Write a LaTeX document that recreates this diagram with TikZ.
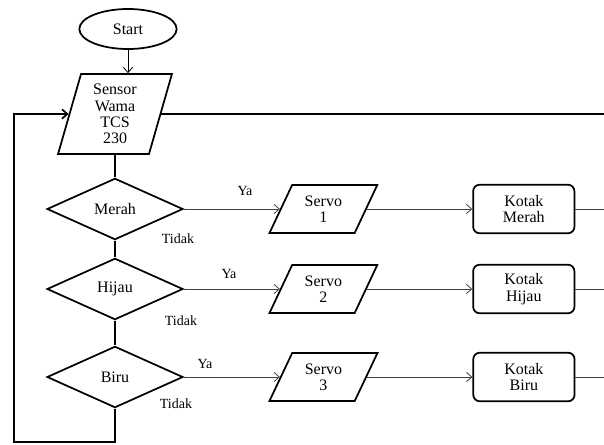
\documentclass[tikz,border=0pt]{standalone}
\usepackage{fontspec}
\setmainfont{Liberation Serif}
\usetikzlibrary{positioning}
\usetikzlibrary{shapes.geometric}
\usetikzlibrary{arrows.meta}
\tikzstyle{every link} = []
\tikzstyle{thick link} = [draw, line width=1.3pt, every link]
\tikzstyle{thin link} = [draw, line width=0.6pt, black!75, every link]
\tikzstyle{startstop} = [ellipse, draw, line width=1.3pt, minimum width=73pt, minimum height=30pt]
\tikzstyle{io} = [trapezium, trapezium stretches=true, draw, line width=1.3pt, align=center, inner sep=1pt]
\tikzstyle{decision} = [diamond, draw, line width=1.3pt, minimum width=102pt, minimum height=46pt, inner sep=0pt, aspect=2.2]
\tikzstyle{kotak} = [rectangle, rounded corners=5pt, draw, line width=1.3pt, minimum width=76pt, minimum height=36.5pt, align=center]
\tikzstyle{lbl} = [font=\fontsize{10.5}{12}\selectfont, inner sep=0pt]

\begin{document}
\begin{tikzpicture}[
		x=0.75pt, y=-0.75pt,
		every node/.style = {font=\fontsize{12}{12.3}\selectfont},
		>={Straight Barb[length=4pt,width=7pt]}
	]
	\useasboundingbox (0,0) rectangle (604,444);
	\coordinate (rim) at (604,0);
	\coordinate (loop) at (14,442);

	% kolom utama
	\node[startstop] (start) at (128,29) {Start};
	\node[io, trapezium left angle=76, trapezium right angle=104,
		minimum width=85.5pt, minimum height=60pt] (sensor) at (115,114) {Sensor\\Wama\\TCS\\230};
	\node[decision] (merah) at (115,209) {Merah};
	\node[decision] (hijau) at (115,289) {Hijau};
	\node[decision] (biru) at (115,377) {Biru};

	% servo dan kotak
	\foreach \warna/\nomor/\isi in {merah/1/Merah, hijau/2/Hijau, biru/3/Biru}{
		\node[io, trapezium left angle=64, trapezium right angle=116,
			minimum width=81pt, minimum height=36pt, right=72pt of \warna] (servo\nomor) {Servo\\\nomor};
		\node[kotak, right=79pt of servo\nomor] (kotak\nomor) {Kotak\\\isi};
		\path[thin link, ->] (\warna.east) -- (servo\nomor.west);
		\path[thin link, ->] (servo\nomor.east) -- (kotak\nomor.west);
		\path[thin link] (kotak\nomor.east) -- (kotak\nomor.east -| rim);
	}

	% label
	\node[lbl] (ya1) at (245,191) {Ya};
	\node[lbl] (tidak1) at (178,239) {Tidak};
	\node[lbl] (ya2) at (229,274) {Ya};
	\node[lbl] (tidak2) at (181,321) {Tidak};
	\node[lbl] (ya3) at (205,364) {Ya};
	\node[lbl] (tidak3) at (176,404) {Tidak};

	% garis
	\path[thin link, black, ->] (start.south) -- (start.south |- sensor.north);
	\path[thick link] (sensor.east) -- (sensor.east -| rim);
	\path[thick link] (merah.north |- sensor.south) -- (merah.north);
	\path[thick link] (merah.south) -- (hijau.north);
	\path[thick link] (hijau.south) -- (biru.north);
	\path[thick link, ->] (biru.south) |- (loop) |- (sensor.west);
\end{tikzpicture}
\end{document}
